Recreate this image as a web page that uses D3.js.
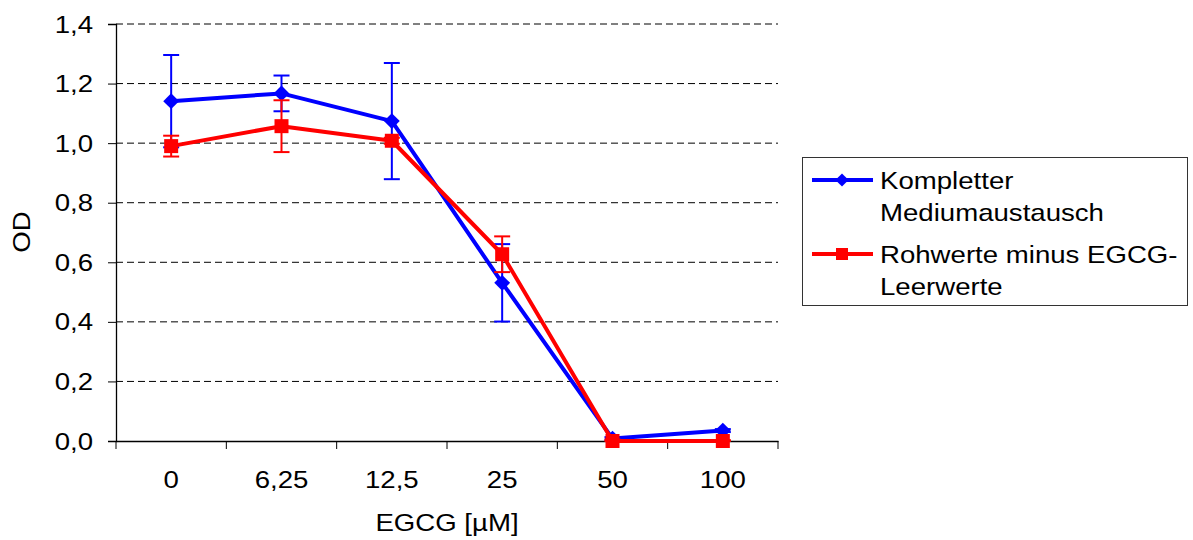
<!DOCTYPE html>
<html><head><meta charset="utf-8">
<script src="https://cdn.jsdelivr.net/npm/d3@7"></script>
<style>body{margin:0;background:#fff}svg text{font-family:"Liberation Sans",Arial,sans-serif;fill:#000}</style>
</head><body>
<svg id="c" width="1193" height="540"></svg>
<script>
const categories = ["0","6,25","12,5","25","50","100"];
const blueValues = [1.141, 1.167, 1.074, 0.531, 0.008, 0.035];
const blueErrors = [0.155, 0.06, 0.195, 0.13, 0.005, 0.005];
const redValues = [0.990, 1.057, 1.008, 0.627, 0.0, 0.0];
const redErrors = [0.035, 0.087, 0.01, 0.06, 0.005, 0.003];
const yTicks = [0, 0.2, 0.4, 0.6, 0.8, 1.0, 1.2, 1.4];
const seriesNames = [["Kompletter","Mediumaustausch"],["Rohwerte minus EGCG-","Leerwerte"]];
const xTitle = "EGCG [µM]", yTitle = "OD";

const svg = d3.select("#c");
const L=116, R=778, T=24, B=441;
const FS=24, SX=1.15;
const x = d3.scaleBand().domain(categories).range([L,R]);
const y = d3.scaleLinear().domain([0,1.4]).range([B,T]);
const fmt = v => d3.format(".1f")(v).replace(".",",");

function txt(g, s, tx, ty, anchor, rot){
  return g.append("text").attr("transform",`translate(${tx},${ty})${rot?` rotate(${rot})`:""} scale(${SX},1)`)
    .attr("text-anchor",anchor).attr("font-size",FS).text(s);
}

// gridlines
svg.append("g").selectAll("line").data(yTicks.filter(v=>v>0)).join("line")
  .attr("x1",L).attr("x2",R).attr("y1",d=>y(d)).attr("y2",d=>y(d))
  .attr("stroke","#000").attr("stroke-width",1).attr("stroke-dasharray","7,4");

// axes
const yAxis = svg.append("g").attr("transform",`translate(${L},0)`)
  .call(d3.axisLeft(y).tickValues(yTicks).tickSize(8).tickFormat(""));
const xAxis = svg.append("g").attr("transform",`translate(0,${B})`)
  .call(d3.axisBottom(x).tickSize(0).tickFormat(""));
[yAxis,xAxis].forEach(a=>{a.select(".domain").attr("stroke","#000").attr("stroke-width",1.3);a.selectAll(".tick line").attr("stroke","#000").attr("stroke-width",1);});
// x ticks at band edges
const edges = categories.map(c=>x(c)).concat([R]);
svg.append("g").selectAll("line").data(edges).join("line")
  .attr("x1",d=>d).attr("x2",d=>d).attr("y1",B).attr("y2",B+8).attr("stroke","#000");

// tick labels
const lg = svg.append("g");
yTicks.forEach(v=>txt(lg, fmt(v), 93, y(v)+8.5, "end"));
categories.forEach(c=>txt(lg, c, x(c)+x.bandwidth()/2, 488, "middle"));
txt(lg, xTitle, (L+R)/2, 531, "middle");
txt(lg, yTitle, 30, 232, "middle", -90);

const cx = c=>x(c)+x.bandwidth()/2;
function series(vals, errs, color, marker){
  const g = svg.append("g");
  categories.forEach((c,i)=>{
    const y1=y(vals[i]+errs[i]), y2=y(Math.max(0,vals[i]-errs[i]));
    g.append("line").attr("x1",cx(c)).attr("x2",cx(c)).attr("y1",y1).attr("y2",y2).attr("stroke",color).attr("stroke-width",2);
    [y1,y2].forEach(yy=>g.append("line").attr("x1",cx(c)-8).attr("x2",cx(c)+8).attr("y1",yy).attr("y2",yy).attr("stroke",color).attr("stroke-width",2));
  });
  g.append("path").datum(vals).attr("fill","none").attr("stroke",color).attr("stroke-width",4).attr("stroke-linejoin","round")
    .attr("d",d3.line().x((d,i)=>cx(categories[i])).y(d=>y(d)));
  g.selectAll(".m").data(vals).join("path").attr("fill",color)
    .attr("transform",(d,i)=>`translate(${cx(categories[i])},${y(d)})`)
    .attr("d",marker);
}
const diamond = d3.symbol().type(d3.symbolDiamond2).size(160)();
const square = "M-7,-7H7V7H-7Z";
series(blueValues, blueErrors, "#0000ff", diamond);
series(redValues, redErrors, "#ff0000", square);

// legend
const leg = svg.append("g");
leg.append("rect").attr("x",802.5).attr("y",157.5).attr("width",385).attr("height",148).attr("fill","#fff").attr("stroke","#333").attr("stroke-width",1);
const legY = [180, 254], colors=["#0000ff","#ff0000"], marks=[d3.symbol().type(d3.symbolDiamond2).size(110)(), "M-6,-6H6V6H-6Z"];
seriesNames.forEach((n,i)=>{
  leg.append("line").attr("x1",812).attr("x2",873).attr("y1",legY[i]).attr("y2",legY[i]).attr("stroke",colors[i]).attr("stroke-width",4);
  leg.append("path").attr("d",marks[i]).attr("fill",colors[i]).attr("transform",`translate(842,${legY[i]})`);
  txt(leg, n[0], 880, legY[i]+8.5, "start");
  txt(leg, n[1], 880, legY[i]+40.5, "start");
});
</script>
</body></html>
